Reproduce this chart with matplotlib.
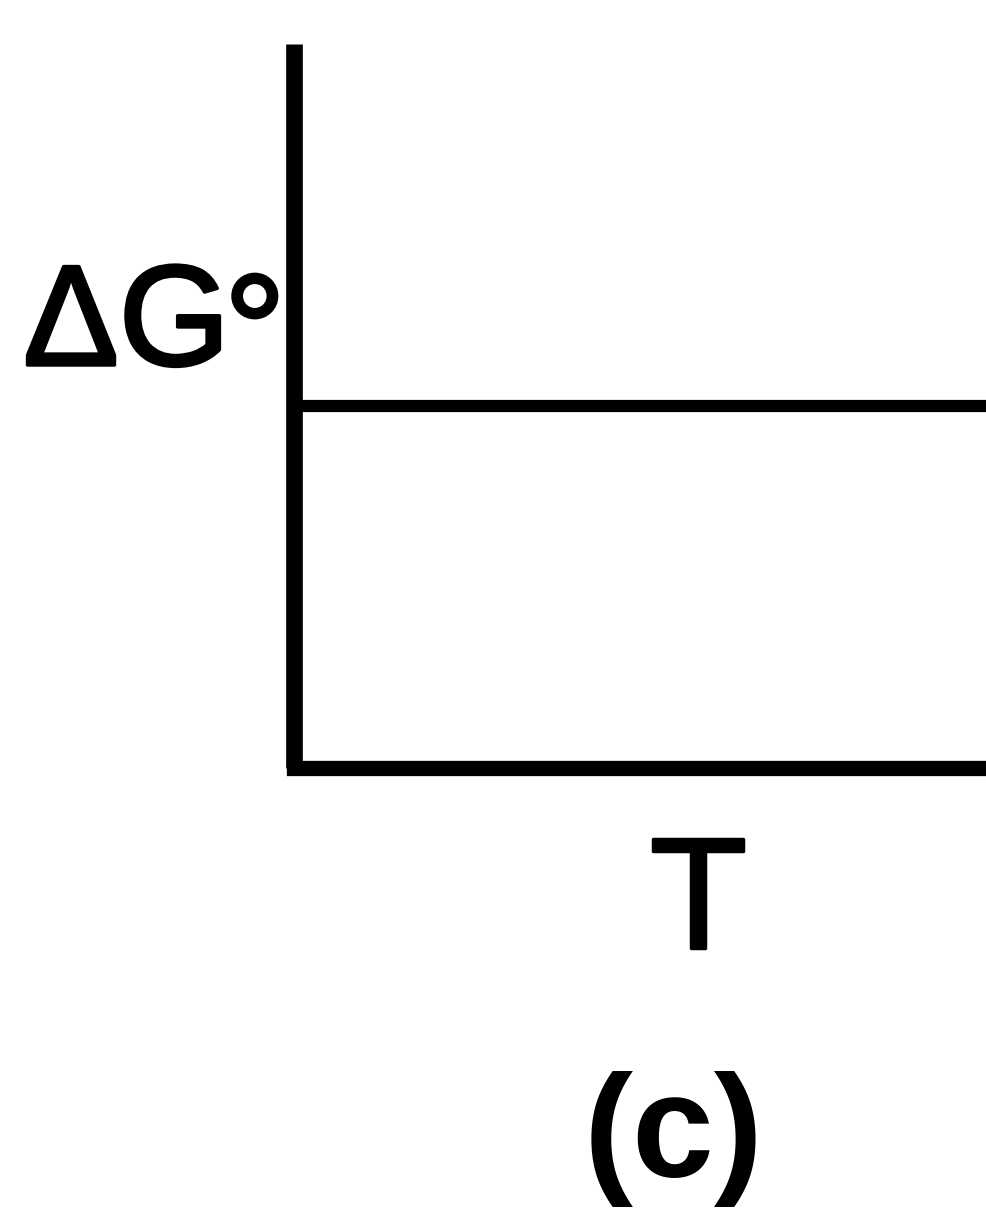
import matplotlib
matplotlib.use("Agg")
import matplotlib.pyplot as plt
import matplotlib.patheffects as pe

plt.rcParams['font.family'] = ['Liberation Sans', 'DejaVu Sans']

# Free energy vs temperature: flat line (ΔS° = 0)
temperature = [0.0, 1.0]
delta_g = [0.5, 0.5]

W, H = 987, 1213
fig = plt.figure(figsize=(W / 100, H / 100), dpi=100)

def fx(px):
    return px / W

def fy(py):
    return 1 - py / H

ax = fig.add_axes([fx(294), fy(768), 1 - fx(294), fy(44) - fy(768)])
ax.plot(temperature, delta_g, color='black', lw=8.8, solid_capstyle='butt')
ax.set_xlim(0, 1)
ax.set_ylim(0, 1)
ax.set_xticks([])
ax.set_yticks([])
for side in ('top', 'right'):
    ax.spines[side].set_visible(False)
ax.spines['left'].set_linewidth(12)
ax.spines['left'].set_capstyle('butt')
ax.spines['bottom'].set_linewidth(11)
ax.spines['bottom'].set_capstyle('projecting')
for side in ('left', 'bottom'):
    ax.spines[side].set_color('black')

# slightly heavier strokes for the regular-weight labels
heavy = [pe.withStroke(linewidth=2.5, foreground='black')]

fig.text(fx(230), fy(365), "ΔG", ha='right', va='baseline', fontsize=103,
         path_effects=heavy)
fig.text(fx(286), fy(383), "°", ha='right', va='baseline', fontsize=112,
         path_effects=heavy)
fig.text(fx(698), fy(948), "T", ha='center', va='baseline', fontsize=114,
         path_effects=heavy)
fig.text(fx(674), fy(1177), "(c)", ha='center', va='baseline', fontsize=106,
         fontweight='bold')

fig.savefig("out.png", dpi=100, facecolor='white')
